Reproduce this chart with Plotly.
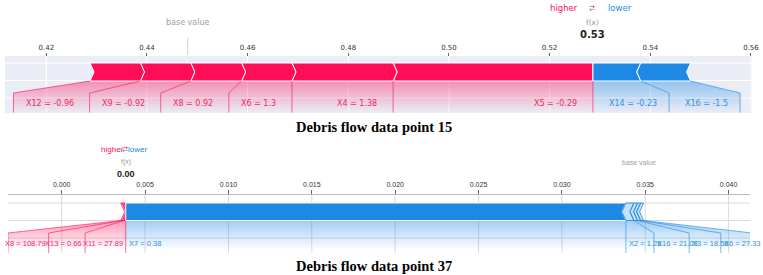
import plotly.graph_objects as go

# ---------------- data ----------------
p1_base_value = 0.4481
p1_pos_features = ["X5", "X4", "X6", "X8", "X9", "X12"]
p1_pos_values = ["-0.29", "1.38", "1.3", "0.92", "-0.92", "-0.96"]
p1_pos_effects = [0.0397, 0.0201, 0.0100, 0.0101, 0.0100, 0.0100]
p1_neg_features = ["X14", "X16"]
p1_neg_values = ["-0.23", "-1.5"]
p1_neg_effects = [0.0095, 0.0099]
p1_ticks = [0.42, 0.44, 0.46, 0.48, 0.50, 0.52, 0.54, 0.56]
p1_caption = "Debris flow data point 15"

p2_base_value = 0.0346
p2_pos_features = ["X11", "X13", "X8"]
p2_pos_values = ["27.89", "0.66", "108.79"]
p2_pos_effects = [0.0001, 0.0001, 0.0001]
p2_neg_features = ["X7", "X2", "X16", "X3", "X6"]
p2_neg_values = ["0.38", "1.26", "21.03", "18.56", "27.33"]
p2_neg_effects = [0.0300, 0.00048, 0.00022, 0.00018, 0.00018]
p2_ticks = [0.000, 0.005, 0.010, 0.015, 0.020, 0.025, 0.030, 0.035, 0.040]
p2_caption = "Debris flow data point 37"

# ---------------- style ----------------
W, H = 763, 275
RED = "#ff0d57"
BLUE = "#1e88e5"
RED_T = "#ee2a66"
BLUE_T = "#3590dc"


def rgba(hexc, a):
    h = hexc.lstrip("#")
    return "rgba(%d,%d,%d,%.3f)" % (int(h[0:2], 16), int(h[2:4], 16), int(h[4:6], 16), a)


DEJAVU = {"X": 685, ".": 318, " ": 318, "=": 838, "-": 361}
ARIAL = {"X": 667, ".": 278, " ": 278, "=": 584, "-": 333}


def text_em(s, table, digit):
    return sum(table.get(ch, digit) for ch in s) / 1000.0


P1 = dict(
    xa="x", dom=(5, 752), rng=(0.411795, 0.560200), ax_y=55.5,
    base=p1_base_value, pf=p1_pos_features, pv=p1_pos_values, pe=p1_pos_effects,
    nf=p1_neg_features, nv=p1_neg_values, ne=p1_neg_effects, ticks=p1_ticks, tickfmt="%.2f",
    bg=(56, 113), bg_color="#eaedf5", grid_color="white", hgrid=[63, 80.5, 98], vgrid=(56, 113),
    bar=(63, 81), knee=93, lab_bot=112.5, text_y=103, grad_stop=113,
    font="DejaVu Sans", lab_size=8, widths=DEJAVU, digit=636,
    red_scale=8, blue_scale=8, cell_pad=28, text_pad=14, tip=4, small_px=0,
    hdr_y=8, fx_y=22, val_y=34, base_y=22, hdr_size=8.5, fx_size=7.5, val_size=10, base_size=8,
    hdr_gap=13, base_line=(38, 55), caption=p1_caption, cap_y=127,
    tick_size=7, ticklen=3, showline=False,
)
P2 = dict(
    xa="x2", dom=(8, 750), rng=(-0.003222, 0.041282), ax_y=194,
    base=p2_base_value, pf=p2_pos_features, pv=p2_pos_values, pe=p2_pos_effects,
    nf=p2_neg_features, nv=p2_neg_values, ne=p2_neg_effects, ticks=p2_ticks, tickfmt="%.3f",
    bg=None, bg_color=None, grid_color="#dadada", hgrid=[203, 220.5, 238], vgrid=(194, 253),
    bar=(203, 220.5), knee=233, lab_bot=253, text_y=243, grad_stop=250,
    font="Liberation Sans", lab_size=7.5, widths=ARIAL, digit=556,
    red_scale=7.5, blue_scale=6.5, cell_pad=0, text_pad=1, tip=4, small_px=10,
    hdr_y=149, fx_y=162, val_y=174, base_y=162, hdr_size=8, fx_size=7, val_size=9, base_size=7,
    hdr_gap=0, base_line=None, caption=p2_caption, cap_y=266,
    tick_size=7, ticklen=4, showline=True,
)

fig = go.Figure()
shapes = []
annotations = []


def add_poly(xa, xs, ys, **kw):
    fig.add_trace(go.Scatter(x=list(xs) + [xs[0]], y=list(ys) + [ys[0]], xaxis=xa, yaxis="y",
                             mode="lines", fill="toself", hoverinfo="skip", showlegend=False, **kw))


def add_line(xa, xs, ys, color):
    fig.add_trace(go.Scatter(x=xs, y=ys, xaxis=xa, yaxis="y", mode="lines",
                             line=dict(color=color, width=1), hoverinfo="skip", showlegend=False))


for P in (P1, P2):
    xa = P["xa"]
    d0, d1 = P["dom"]
    r0, r1 = P["rng"]
    scale = (d1 - d0) / (r1 - r0)
    to_px = lambda v, d0=d0, r0=r0, s=scale: d0 + (v - r0) * s
    to_v = lambda p, d0=d0, r0=r0, s=scale: r0 + (p - d0) / s
    tip = P["tip"] / scale

    fval = P["base"] + sum(P["pe"]) - sum(P["ne"])
    f_px = to_px(fval)
    y0, y1 = P["bar"]
    ym = (y0 + y1) / 2
    knee, lb = P["knee"], P["lab_bot"]

    # background and grid
    if P["bg"]:
        shapes.append(dict(type="rect", xref=xa + " domain", yref="y", x0=0, x1=1,
                           y0=P["bg"][0], y1=P["bg"][1], fillcolor=P["bg_color"],
                           line=dict(width=0), layer="below"))
    for t in P["ticks"]:
        shapes.append(dict(type="line", xref=xa, yref="y", x0=t, x1=t, y0=P["vgrid"][0],
                           y1=P["vgrid"][1], line=dict(color=P["grid_color"], width=1), layer="below"))
    for hy in P["hgrid"]:
        shapes.append(dict(type="line", xref=xa + " domain", yref="y", x0=0, x1=1, y0=hy, y1=hy,
                           line=dict(color=P["grid_color"], width=1), layer="below"))

    # ---- positive (red) segments, from f(x) leftwards ----
    segs = []
    right = fval
    for name, val, eff in zip(P["pf"], P["pv"], P["pe"]):
        segs.append((right - eff, right, name + " = " + val))
        right -= eff
    cur = f_px
    red_cells = []
    for a, b, txt in segs:
        need = P["red_scale"] * text_em(txt, P["widths"], P["digit"]) + P["cell_pad"]
        cr = cur
        cl = min(to_px(a), cr - need)
        red_cells.append((cl, cr))
        cur = cl
    # ---- negative (blue) segments, from f(x) rightwards ----
    nsegs = []
    left = fval
    for name, val, eff in zip(P["nf"], P["nv"], P["ne"]):
        nsegs.append((left, left + eff, name + " = " + val))
        left += eff
    cur = f_px
    blue_cells = []
    for a, b, txt in nsegs:
        need = P["blue_scale"] * text_em(txt, P["widths"], P["digit"]) + P["cell_pad"]
        cl = cur
        cr = max(to_px(b), cl + need)
        blue_cells.append((cl, cr))
        cur = cr

    # gradients under bars
    for (a, b, txt), (cl, cr), col in [(s, c, RED) for s, c in zip(segs, red_cells)] + \
                                      [(s, c, BLUE) for s, c in zip(nsegs, blue_cells)]:
        add_poly(xa, [a, b, to_v(cr), to_v(cr), to_v(cl), to_v(cl)], [y1, y1, knee, lb, lb, knee],
                 line=dict(width=0),
                 fillgradient=dict(type="vertical", start=y1, stop=P["grad_stop"],
                                   colorscale=[[0, rgba(col, 0.42)], [1, rgba(col, 0.0)]]))

    # bars
    for i, (a, b, txt) in enumerate(segs):
        small = (to_px(b) - to_px(a)) < P["small_px"]
        if i == 0:
            xs = [a, b, b, a, a + tip]
            ys = [y0, y0, y1, y1, ym]
        else:
            xs = [a, b, b + tip, b, a, a + tip]
            ys = [y0, y0, ym, y1, y1, ym]
        add_poly(xa, xs, ys, fillcolor=rgba(RED, 0.3) if small else RED,
                 line=dict(color=rgba(RED, 0.7) if small else "white", width=1))
    for i, (a, b, txt) in enumerate(nsegs):
        small = (to_px(b) - to_px(a)) < P["small_px"]
        if i == 0:
            xs = [a, b, b - tip, b, a]
            ys = [y0, y0, ym, y1, y1]
        else:
            xs = [a, b, b - tip, b, a, a - tip]
            ys = [y0, y0, ym, y1, y1, ym]
        add_poly(xa, xs, ys, fillcolor=rgba(BLUE, 0.25) if small else BLUE,
                 line=dict(color=rgba(BLUE, 0.8) if small else "white", width=1))

    # label connector lines and texts
    for (a, b, txt), (cl, cr) in zip(segs, red_cells):
        add_line(xa, [a, to_v(cl), to_v(cl)], [y1, knee, lb], rgba(RED, 0.6))
        annotations.append(dict(x=to_v(cr - P["text_pad"]), y=P["text_y"], xref=xa, yref="y",
                                text=txt, showarrow=False, xanchor="right", yanchor="middle",
                                font=dict(family=P["font"], size=P["lab_size"], color=RED_T)))
    for (a, b, txt), (cl, cr) in zip(nsegs, blue_cells):
        add_line(xa, [b, to_v(cr), to_v(cr)], [y1, knee, lb], rgba(BLUE, 0.6))
        annotations.append(dict(x=to_v(cl + P["text_pad"]), y=P["text_y"], xref=xa, yref="y",
                                text=txt, showarrow=False, xanchor="left", yanchor="middle",
                                font=dict(family=P["font"], size=P["lab_size"], color=BLUE_T)))
    add_line(xa, [fval, fval], [y1, lb], rgba(RED, 0.6))

    # header texts
    fnt = P["font"]
    annotations.append(dict(x=to_v(f_px - P["hdr_gap"]), y=P["hdr_y"], xref=xa, yref="y", text="higher",
                            showarrow=False, xanchor="right", yanchor="middle",
                            font=dict(family=fnt, size=P["hdr_size"], color=RED)))
    annotations.append(dict(x=to_v(f_px + P["hdr_gap"]), y=P["hdr_y"], xref=xa, yref="y", text="lower",
                            showarrow=False, xanchor="left", yanchor="middle",
                            font=dict(family=fnt, size=P["hdr_size"], color=BLUE)))
    annotations.append(dict(x=to_v(f_px - 1), y=P["hdr_y"] - 1.5, xref=xa, yref="y", text="→",
                            showarrow=False, xanchor="center", yanchor="middle",
                            font=dict(family="DejaVu Sans", size=7, color=RED)))
    annotations.append(dict(x=to_v(f_px - 1), y=P["hdr_y"] + 1.5, xref=xa, yref="y", text="←",
                            showarrow=False, xanchor="center", yanchor="middle",
                            font=dict(family="DejaVu Sans", size=7, color=BLUE)))
    annotations.append(dict(x=fval, y=P["fx_y"], xref=xa, yref="y", text="f(x)", showarrow=False,
                            xanchor="center", yanchor="middle",
                            font=dict(family=fnt, size=P["fx_size"], color="#999999")))
    annotations.append(dict(x=fval, y=P["val_y"], xref=xa, yref="y", text="<b>%.2f</b>" % fval,
                            showarrow=False, xanchor="center", yanchor="middle",
                            font=dict(family=fnt, size=P["val_size"], color="#222222")))
    annotations.append(dict(x=P["base"], y=P["base_y"], xref=xa, yref="y", text="base value",
                            showarrow=False, xanchor="center", yanchor="middle",
                            font=dict(family=fnt, size=P["base_size"], color="#a0a0a0")))
    if P["base_line"]:
        shapes.append(dict(type="line", xref=xa, yref="y", x0=P["base"], x1=P["base"],
                           y0=P["base_line"][0], y1=P["base_line"][1],
                           line=dict(color="#d0d0d0", width=1)))
    annotations.append(dict(x=374 / W, y=P["cap_y"], xref="paper", yref="y",
                            text="<b>" + P["caption"] + "</b>", showarrow=False,
                            xanchor="center", yanchor="middle",
                            font=dict(family="Liberation Serif", size=14.5, color="black")))

    axis = dict(domain=[d0 / W, d1 / W], range=[r0, r1], anchor="free", position=1 - P["ax_y"] / H,
                side="top", tickvals=P["ticks"], ticktext=[P["tickfmt"] % t for t in P["ticks"]],
                ticks="outside", ticklen=P["ticklen"], tickcolor="#666666", tickwidth=1,
                tickfont=dict(family=P["font"], size=P["tick_size"], color="#333333"),
                showgrid=False, zeroline=False, showline=P["showline"], linecolor="#bbbbbb",
                automargin=False, fixedrange=True)
    if xa == "x":
        fig.update_layout(xaxis=axis)
    else:
        fig.update_layout(xaxis2=axis)

fig.update_layout(
    width=W, height=H, margin=dict(l=0, r=0, t=0, b=0),
    paper_bgcolor="white", plot_bgcolor="rgba(0,0,0,0)", showlegend=False,
    yaxis=dict(domain=[0, 1], range=[H, 0], visible=False, fixedrange=True),
    shapes=shapes, annotations=annotations,
)

fig.write_html("out.html")
